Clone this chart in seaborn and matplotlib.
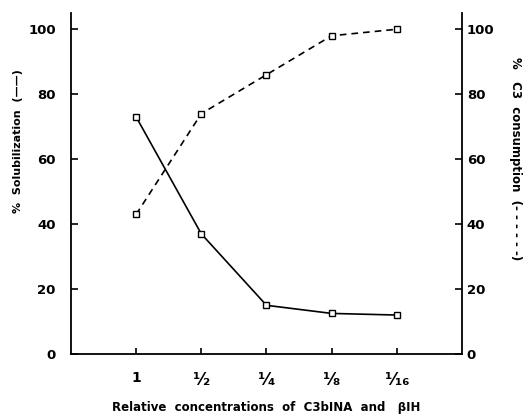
import matplotlib
matplotlib.use("Agg")
import matplotlib.pyplot as plt
import seaborn as sns
import pandas as pd

categories = ["1", "¹⁄₂", "¹⁄₄", "¹⁄₈", "¹⁄₁₆"]
positions = [1, 2, 3, 4, 5]
solubilization = [73, 37, 15, 12.5, 12]
c3_consumption = [43, 74, 86, 98, 100]

sns.set_theme(style="ticks")
plt.rcParams['font.family'] = ['DejaVu Sans']
plt.rcParams['font.weight'] = 'bold'
plt.rcParams['text.color'] = 'black'
plt.rcParams['axes.labelcolor'] = 'black'
plt.rcParams['xtick.color'] = 'black'
plt.rcParams['ytick.color'] = 'black'
plt.rcParams['axes.edgecolor'] = 'black'

df = pd.DataFrame({"pos": positions, "sol": solubilization, "c3": c3_consumption})

fig = plt.figure(figsize=(5.24, 4.16), dpi=100)
ax = fig.add_axes([0.1355, 0.149, 0.746, 0.8197])
ax2 = ax.twinx()

sns.lineplot(data=df, x="pos", y="sol", ax=ax, color="black", lw=1.2,
             marker="s", markersize=5, markerfacecolor="white",
             markeredgecolor="black", markeredgewidth=1)
sns.lineplot(data=df, x="pos", y="c3", ax=ax2, color="black", lw=1.2,
             linestyle=(0, (4, 3)), marker="s", markersize=5,
             markerfacecolor="white", markeredgecolor="black", markeredgewidth=1)

for a in (ax, ax2):
    a.set_xlim(0, 6)
    a.set_ylim(0, 105)
    a.set_yticks([0, 20, 40, 60, 80, 100])
    a.spines['top'].set_visible(False)
    for s in a.spines.values():
        s.set_linewidth(1.3)
    a.tick_params(direction="in", length=5, width=1.2, labelsize=9.5,
                  colors='black')
ax2.spines['right'].set_visible(True)
ax.spines['right'].set_visible(False)
ax2.spines['left'].set_visible(False)
ax2.spines['bottom'].set_visible(False)

ax.set_xticks(positions)
ax.set_xticklabels(categories, fontweight='bold')
for i, lab in enumerate(ax.get_xticklabels()):
    lab.set_fontsize(10 if i == 0 else 12)
ax.tick_params(axis='x', pad=12, length=4)
ax.tick_params(axis='y', pad=11)
ax2.tick_params(axis='y', pad=3.5)
for lab in ax.get_yticklabels() + ax2.get_yticklabels():
    lab.set_fontweight('bold')

ax.set_xlabel("Relative  concentrations  of  C3bINA  and   βIH", fontsize=8.5,
              fontweight='bold', labelpad=9)
ax.set_ylabel("%  Solubilization  (——)", fontsize=8, fontweight='bold',
              va='center')
ax.yaxis.set_label_coords(-0.135, 0.625)
ax2.set_ylabel("%   C3  consumption  (- - - - - -)", fontsize=8.5,
               fontweight='bold', rotation=270, va='center')
ax2.yaxis.set_label_coords(1.136, 0.572)

fig.savefig("out.png", dpi=100)
